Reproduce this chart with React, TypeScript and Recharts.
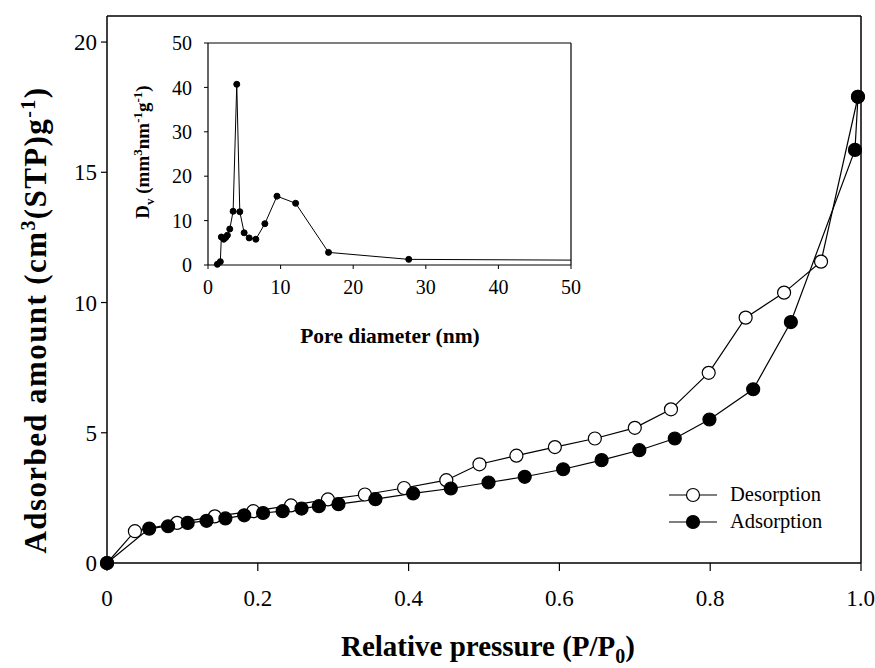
import React from 'react';
import { LineChart, Line, XAxis, YAxis, ReferenceLine, Legend } from 'recharts';

// Main isotherm (relative pressure P/P0 vs adsorbed amount)
const adsorptionP = [0, 0.056, 0.081, 0.107, 0.132, 0.157, 0.182, 0.207, 0.233, 0.258, 0.281, 0.307, 0.356, 0.406, 0.456, 0.506, 0.554, 0.605, 0.656, 0.706, 0.753, 0.799, 0.857, 0.907, 0.992, 0.996];
const adsorptionV = [0, 1.32, 1.41, 1.54, 1.62, 1.71, 1.83, 1.92, 1.99, 2.09, 2.18, 2.26, 2.45, 2.67, 2.86, 3.09, 3.31, 3.6, 3.95, 4.33, 4.78, 5.51, 6.67, 9.25, 15.86, 17.9];
const desorptionP = [0.996, 0.947, 0.898, 0.847, 0.798, 0.748, 0.7, 0.647, 0.594, 0.543, 0.494, 0.45, 0.394, 0.342, 0.293, 0.244, 0.194, 0.143, 0.093, 0.037, 0];
const desorptionV = [17.9, 11.57, 10.38, 9.42, 7.3, 5.9, 5.19, 4.78, 4.45, 4.12, 3.79, 3.18, 2.88, 2.63, 2.44, 2.21, 1.99, 1.79, 1.54, 1.22, 0];
const mainXTicks = [0, 0.2, 0.4, 0.6, 0.8, 1.0];
const mainXTickLabels = ['0', '0.2', '0.4', '0.6', '0.8', '1.0'];
const mainYTicks = [0, 5, 10, 15, 20];

// Inset pore size distribution
const poreDiameter = [1.29, 1.7, 1.84, 2.17, 2.44, 2.67, 3.0, 3.46, 3.96, 4.38, 4.98, 5.67, 6.59, 7.83, 9.5, 12.07, 16.6, 27.65, 50];
const poreDv = [0.15, 0.75, 6.3, 5.8, 6.2, 6.7, 8.1, 12.1, 40.7, 12.0, 7.25, 6.1, 5.8, 9.3, 15.5, 13.9, 2.84, 1.27, 1.1];
const insetTicks = [0, 10, 20, 30, 40, 50];

const adsorptionData = adsorptionP.map((p, i) => ({ p, v: adsorptionV[i] }));
const desorptionData = desorptionP.map((p, i) => ({ p, v: desorptionV[i] }));
const insetData = poreDiameter.map((d, i) => ({ d, dv: poreDv[i] }));

const FONT = '"Liberation Serif", "Times New Roman", serif';

const LegendContent = () => (
  <svg width={200} height={60} style={{ display: 'block' }}>
    <line x1={7} y1={13} x2={55} y2={13} stroke="#000" strokeWidth={1.2} />
    <circle cx={31} cy={13} r={6.5} fill="#fff" stroke="#000" strokeWidth={1.2} />
    <text x={68} y={19} fontFamily={FONT} fontSize={20.5} fill="#000">Desorption</text>
    <line x1={7} y1={40} x2={55} y2={40} stroke="#000" strokeWidth={1.2} />
    <circle cx={31} cy={40} r={6.5} fill="#000" stroke="#000" strokeWidth={1.2} />
    <text x={68} y={46} fontFamily={FONT} fontSize={20.5} fill="#000">Adsorption</text>
  </svg>
);

const insetDot = (props: any) => {
  const { cx, cy, payload, index } = props;
  if (payload.d >= 50) return <g key={`d${index}`} />;
  return <circle key={`d${index}`} cx={cx} cy={cy} r={3} fill="#000" stroke="#000" />;
};

export default function App() {
  return (
    <div style={{ position: 'absolute', left: 0, top: 0, width: 875, height: 668, background: '#fff', fontFamily: FONT }}>
      <LineChart width={875} height={668} margin={{ top: 16, right: 14, bottom: 60, left: 47 }}>
        <XAxis
          type="number"
          dataKey="p"
          domain={[0, 1]}
          ticks={mainXTicks}
          tickFormatter={(v: number) => mainXTickLabels[mainXTicks.indexOf(v)] ?? String(v)}
          height={45}
          tickSize={8}
          tickMargin={19}
          axisLine={{ stroke: '#000', strokeWidth: 1.5 }}
          tickLine={{ stroke: '#000', strokeWidth: 1.2 }}
          tick={{ fill: '#000', fontSize: 23, fontFamily: FONT }}
          allowDuplicatedCategory={false}
        />
        <YAxis
          type="number"
          dataKey="v"
          domain={[0, 21]}
          ticks={mainYTicks}
          width={60}
          tickSize={6}
          tickMargin={4}
          axisLine={{ stroke: '#000', strokeWidth: 1.5 }}
          tickLine={{ stroke: '#000', strokeWidth: 1.2 }}
          tick={{ fill: '#000', fontSize: 23, fontFamily: FONT }}
        />
        <ReferenceLine y={21} stroke="#000" strokeWidth={1.5} />
        <ReferenceLine x={1} stroke="#000" strokeWidth={1.5} />
        <Line
          data={desorptionData}
          dataKey="v"
          name="Desorption"
          stroke="#000"
          strokeWidth={1.2}
          dot={{ r: 6.5, fill: '#fff', stroke: '#000', strokeWidth: 1.2 }}
          isAnimationActive={false}
        />
        <Line
          data={adsorptionData}
          dataKey="v"
          name="Adsorption"
          stroke="#000"
          strokeWidth={1.2}
          dot={{ r: 6.5, fill: '#000', stroke: '#000', strokeWidth: 1.2 }}
          isAnimationActive={false}
        />
        <Legend
          layout="vertical"
          align="center"
          verticalAlign="middle"
          content={() => <LegendContent />}
          wrapperStyle={{ position: 'absolute', left: 662, top: 482, width: 200, height: 60 }}
        />
      </LineChart>

      <div style={{ position: 'absolute', left: 0, top: 0 }}>
        <LineChart width={600} height={360} data={insetData} margin={{ top: 43, right: 29, bottom: 45, left: 148 }}>
          <XAxis
            type="number"
            dataKey="d"
            domain={[0, 50]}
            ticks={insetTicks}
            height={50}
            tickSize={4}
            tickMargin={11}
            axisLine={{ stroke: '#000', strokeWidth: 1.2 }}
            tickLine={{ stroke: '#000' }}
            tick={{ fill: '#000', fontSize: 20, fontFamily: FONT }}
          />
          <YAxis
            type="number"
            domain={[0, 50]}
            ticks={insetTicks}
            width={60}
            tickSize={4}
            tickMargin={12}
            axisLine={{ stroke: '#000', strokeWidth: 1.2 }}
            tickLine={{ stroke: '#000' }}
            tick={{ fill: '#000', fontSize: 20, fontFamily: FONT }}
          />
          <ReferenceLine y={50} stroke="#000" strokeWidth={1.2} />
          <ReferenceLine x={50} stroke="#000" strokeWidth={1.2} />
          <Line dataKey="dv" stroke="#000" strokeWidth={1} dot={insetDot} isAnimationActive={false} />
        </LineChart>
      </div>

      <svg width={875} height={668} style={{ position: 'absolute', left: 0, top: 0, pointerEvents: 'none' }}>
        <text x={488} y={656} textAnchor="middle" fontFamily={FONT} fontWeight="bold" fontSize={29} fill="#000">
          Relative pressure (P/P<tspan dy={7} fontSize={20}>0</tspan><tspan dy={-7}>)</tspan>
        </text>
        <text transform="translate(46,320) rotate(-90)" textAnchor="middle" fontFamily={FONT} fontWeight="bold" fontSize={31} letterSpacing={1.4} fill="#000">
          Adsorbed amount (cm<tspan dy={-11} fontSize={20}>3</tspan><tspan dy={11}>(STP)g</tspan><tspan dy={-11} fontSize={20}>-1</tspan><tspan dy={11}>)</tspan>
        </text>
        <text x={390} y={343} textAnchor="middle" fontFamily={FONT} fontWeight="bold" fontSize={21.5} fill="#000">
          Pore diameter (nm)
        </text>
        <text transform="translate(149,152) rotate(-90)" textAnchor="middle" fontFamily={FONT} fontWeight="bold" fontSize={19} fill="#000">
          D<tspan dy={5} fontSize={13}>v</tspan><tspan dy={-5}> (mm</tspan><tspan dy={-7} fontSize={13}>3</tspan><tspan dy={7}>nm</tspan><tspan dy={-7} fontSize={13}>-1</tspan><tspan dy={7}>g</tspan><tspan dy={-7} fontSize={13}>-1</tspan><tspan dy={7}>)</tspan>
        </text>
      </svg>
    </div>
  );
}
